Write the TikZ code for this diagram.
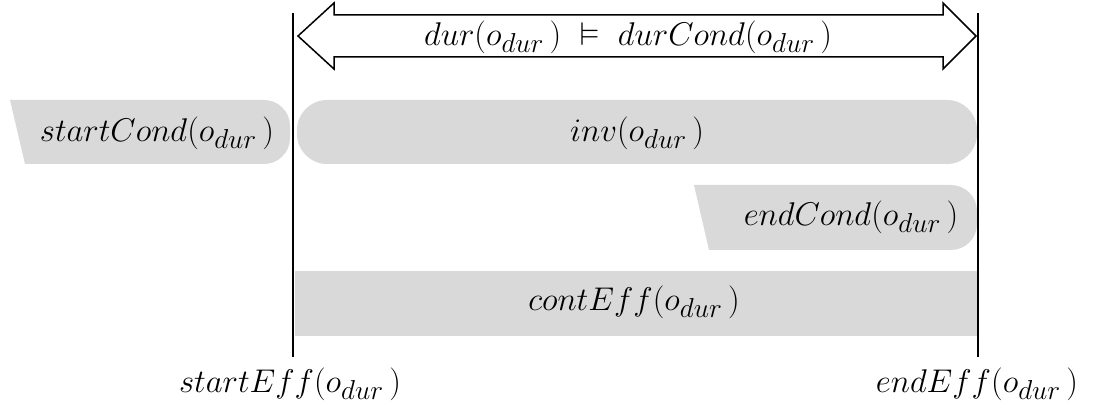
\documentclass[tikz,border=0pt]{standalone}
\usepackage{amsmath,amssymb}
\begin{document}
\begin{tikzpicture}[x=1pt,y=-1pt,
  lbl/.style={inner sep=0pt,font=\fontsize{24.88}{28}\selectfont,scale=1.32,transform shape},
  bound/.style={line width=2pt,black}]
\definecolor{bandgray}{HTML}{D9D9D9}
\useasboundingbox (0,0) rectangle (1093,414);
\newcommand{\od}{o_{dur}\,}
% condition and effect bands
\fill[bandgray] (10,100) [rounded corners=26] -- (290,100) -- (290,164) [sharp corners] -- (25,164) -- cycle;
\fill[bandgray,rounded corners=30] (297,100) rectangle (977,164);
\fill[bandgray] (694,185) [rounded corners=26] -- (977,185) -- (977,250) [sharp corners] -- (709,250) -- cycle;
\fill[bandgray] (295,271) rectangle (977,336);
% duration arrow
\draw[line width=1.5pt,fill=white,line join=miter]
  (298,36) -- (334,3) -- (334,15) -- (943,15) -- (943,3) -- (976,36)
  -- (943,69) -- (943,57) -- (334,57) -- (334,69) -- cycle;
% start and end boundaries
\coordinate (st) at (293,13); \coordinate (sb) at (293,357);
\coordinate (et) at (978,13); \coordinate (eb) at (978,357);
\draw[bound] (st) -- (sb);
\draw[bound] (et) -- (eb);
% labels
\node[lbl] (dur) at (628,37) {$dur(\od)\;\vDash\; durCond(\od)$};
\node[lbl] (sc) at (157,133) {$startCond(\od)$};
\node[lbl] (inv) at (637,133) {$inv(\od)$};
\node[lbl] (ec) at (851,217) {$endCond(\od)$};
\node[lbl] (ce) at (634,302) {$contEff(\od)$};
\node[lbl] (se) at (290,384) {$startEff(\od)$};
\node[lbl] (ee) at (977,384) {$endEff(\od)$};
\end{tikzpicture}
\end{document}
